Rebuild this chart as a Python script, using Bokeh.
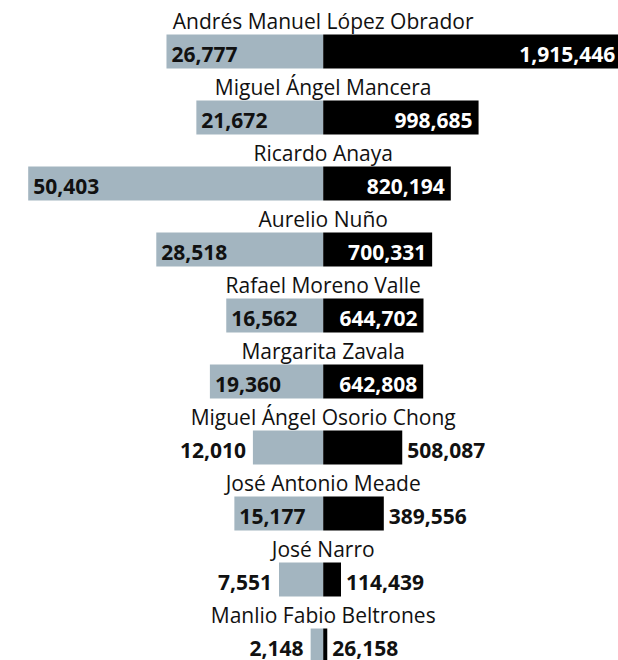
from bokeh.plotting import figure
from bokeh.models import ColumnDataSource, Range1d
from bokeh.core.properties import value
from bokeh.embed import file_html
from bokeh.resources import INLINE

# ---- data ----
names = [
    "Andrés Manuel López Obrador",
    "Miguel Ángel Mancera",
    "Ricardo Anaya",
    "Aurelio Nuño",
    "Rafael Moreno Valle",
    "Margarita Zavala",
    "Miguel Ángel Osorio Chong",
    "José Antonio Meade",
    "José Narro",
    "Manlio Fabio Beltrones",
]
left_values = [26777, 21672, 50403, 28518, 16562, 19360, 12010, 15177, 7551, 2148]
right_values = [1915446, 998685, 820194, 700331, 644702, 642808, 508087, 389556, 114439, 26158]

# ---- layout constants ----
W, H = 618, 660
CENTER_PX = 322.7
LEFT_SPAN_PX = 295.0
RIGHT_SPAN_PX = 298.0
ROW_TOP_PX = 51.0      # centre of first bar
ROW_STEP_PX = 66.0
BAR_H_PX = 34.0
GRAY = "#a3b5c0"
NAME_FONT = "Open Sans"
VAL_FONT = "Open Sans"
VAL_SIZE = 21

n = len(names)
rows = list(range(n))

upp_r = max(right_values) / RIGHT_SPAN_PX
upp_l = max(left_values) / LEFT_SPAN_PX

p = figure(width=W, height=H, output_backend="svg", toolbar_location=None,
           x_range=Range1d(-CENTER_PX * upp_r, (W - CENTER_PX) * upp_r),
           y_range=Range1d((H - ROW_TOP_PX) / ROW_STEP_PX, -ROW_TOP_PX / ROW_STEP_PX),
           min_border=0, x_axis_location=None, y_axis_location=None)
p.extra_x_ranges = {"left": Range1d(CENTER_PX * upp_l, -(W - CENTER_PX) * upp_l)}
p.grid.visible = False
p.outline_line_color = None
p.background_fill_color = "white"
p.border_fill_color = "white"

bar_h = BAR_H_PX / ROW_STEP_PX

src_l = ColumnDataSource(dict(y=rows, v=left_values))
src_r = ColumnDataSource(dict(y=rows, v=right_values))
p.hbar(y="y", left=0, right="v", height=bar_h, source=src_l, x_range_name="left",
       fill_color=GRAY, line_color=None)
p.hbar(y="y", left=0, right="v", height=bar_h, source=src_r,
       fill_color="black", line_color=None)


def fmt(v):
    return f"{v:,}"


def est_width(s):
    return sum(5.6 if c == "," else 12.0 for c in s)


# left labels
lx, ly, lt, la, lo, lc = [], [], [], [], [], []
for i, v in enumerate(left_values):
    s = fmt(v)
    inside = v / upp_l >= est_width(s) + 12
    lx.append(v); ly.append(i); lt.append(s)
    la.append("left" if inside else "right")
    lo.append(5 if inside else -7)
    lc.append("#111111")
p.text(x="x", y="y", text="t", text_align="a", x_offset="o", text_color="c",
       source=ColumnDataSource(dict(x=lx, y=ly, t=lt, a=la, o=lo, c=lc)),
       x_range_name="left", y_offset=2.5, text_baseline="alphabetic",
       text_font=value(VAL_FONT), text_font_style="bold",
       text_font_size=f"{VAL_SIZE}px")

# right labels
rx, ry, rt, ra, ro, rc = [], [], [], [], [], []
for i, v in enumerate(right_values):
    s = fmt(v)
    inside = v / upp_r >= est_width(s) + 12
    rx.append(v); ry.append(i); rt.append(s)
    ra.append("right" if inside else "left")
    ro.append(-6 if inside else 5)
    rc.append("white" if inside else "#111111")
p.text(x="x", y="y", text="t", text_align="a", x_offset="o", text_color="c",
       source=ColumnDataSource(dict(x=rx, y=ry, t=rt, a=ra, o=ro, c=rc)),
       y_offset=2.5, text_baseline="alphabetic",
       text_font=value(VAL_FONT), text_font_style="bold",
       text_font_size=f"{VAL_SIZE}px")

# names
p.text(x=[0] * n, y=rows, text=names, text_align="center", text_baseline="alphabetic",
       y_offset=-30.5, text_color="#111111", text_font=value(NAME_FONT),
       text_font_size="21px")

open("out.html", "w").write(file_html(p, INLINE))
